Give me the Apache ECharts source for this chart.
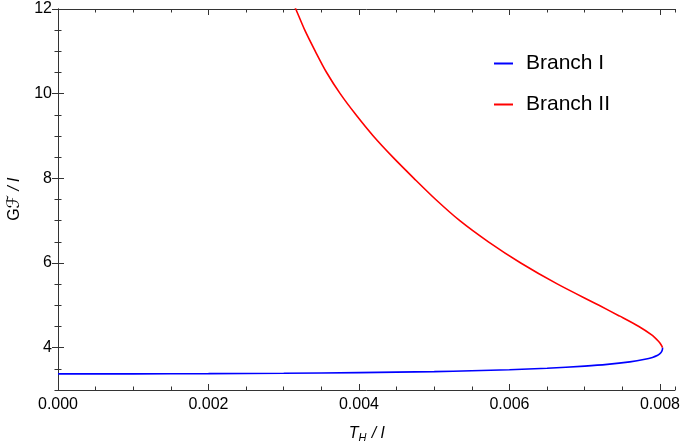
<!DOCTYPE html>
<html>
<head>
<meta charset="utf-8">
<script src="https://cdn.jsdelivr.net/npm/echarts@6/dist/echarts.min.js"></script>
<style>
  html, body { margin: 0; padding: 0; background: #fff; }
  #chart { width: 681px; height: 443px; }
</style>
</head>
<body>
<div id="chart"></div>
<script>
// Branch I (blue), [T_H, GF]
const branch1 = [
  [0.0, 3.38], [0.001, 3.381], [0.002, 3.386], [0.003, 3.395], [0.004, 3.41],
  [0.005, 3.435], [0.0055, 3.455], [0.006, 3.48], [0.0065, 3.515], [0.007, 3.565],
  [0.0073, 3.605], [0.0076, 3.665], [0.0078, 3.725], [0.0079, 3.77], [0.00797, 3.82],
  [0.0080, 3.86], [0.00802, 3.9], [0.008032, 3.95], [0.008035, 4.0]
]
// Branch II (red), from the top of the frame down to the turning point
const branch2 = [
  [0.00312, 12.15], [0.00316, 12.0], [0.00328, 11.5], [0.00342, 11.0], [0.00357, 10.5],
  [0.00375, 10.0], [0.00396, 9.5], [0.00419, 9.0], [0.00445, 8.5], [0.00473, 8.0],
  [0.00502, 7.5], [0.00534, 7.0], [0.00572, 6.5], [0.00615, 6.0], [0.00664, 5.5],
  [0.00719, 5.0], [0.00746, 4.75], [0.00772, 4.5], [0.00789, 4.3], [0.00798, 4.15],
  [0.008015, 4.07], [0.008035, 4.0]
]
const xTicks = [0, 0.002, 0.004, 0.006, 0.008]
const yTicks = [4, 6, 8, 10, 12]

const font = 'Liberation Sans'
const frameColor = '#333'

const myChart = echarts.init(document.getElementById('chart'))

function majorX(pos, labels) {
  return {
    type: 'value', position: pos, min: 0, max: 0.0082,
    axisLine: { show: true, lineStyle: { color: frameColor, width: 1 } },
    axisTick: { show: true, inside: true, length: 6, customValues: xTicks, lineStyle: { color: frameColor } },
    axisLabel: {
      show: labels, customValues: xTicks, margin: 7,
      color: '#000', fontSize: 16, fontFamily: font,
      formatter: v => v.toFixed(3)
    },
    splitLine: { show: false }
  }
}
function minorX(pos) {
  return {
    type: 'value', position: pos, min: 0, max: 0.0082, interval: 0.0005,
    axisLine: { show: false },
    axisTick: { show: true, inside: true, length: 3.5, lineStyle: { color: frameColor } },
    axisLabel: { show: false },
    splitLine: { show: false }
  }
}
function majorY(pos, labels) {
  return {
    type: 'value', position: pos, min: 3, max: 12,
    axisLine: { show: true, lineStyle: { color: frameColor, width: 1 } },
    axisTick: { show: true, inside: true, length: 6, customValues: yTicks, lineStyle: { color: frameColor } },
    axisLabel: {
      show: labels, customValues: yTicks, margin: 6,
      color: '#000', fontSize: 16, fontFamily: font
    },
    splitLine: { show: false }
  }
}
function minorY(pos) {
  return {
    type: 'value', position: pos, min: 3, max: 12, interval: 0.5,
    axisLine: { show: false },
    axisTick: { show: true, inside: true, length: 3.5, lineStyle: { color: frameColor } },
    axisLabel: { show: false },
    splitLine: { show: false }
  }
}

const xMain = majorX('bottom', true)
xMain.name = '{i|T}{sub|H}{i| / l}'
xMain.nameLocation = 'middle'
xMain.nameGap = 34
xMain.nameTextStyle = {
  fontFamily: font, color: '#000',
  rich: {
    i: { fontSize: 16, fontStyle: 'italic', fontFamily: font, color: '#000' },
    sub: { fontSize: 11, fontStyle: 'italic', fontFamily: font, color: '#000', padding: [8, 1, 0, 0] }
  }
}

const yMain = majorY('left', true)
yMain.name = '{r|G}{s|ℱ}{i| / l}'
yMain.nameLocation = 'middle'
yMain.nameGap = 33
yMain.nameTextStyle = {
  fontFamily: font, color: '#000',
  rich: {
    r: { fontSize: 16, fontFamily: font, color: '#000' },
    s: { fontSize: 17, fontFamily: 'DejaVu Sans', color: '#000' },
    i: { fontSize: 16, fontStyle: 'italic', fontFamily: font, color: '#000' }
  }
}

const option = {
  animation: false,
  backgroundColor: '#fff',
  grid: { left: 58, right: 6, top: 9, bottom: 53, containLabel: false, outerBoundsMode: 'none' },
  legend: {
    orient: 'vertical',
    left: 489,
    top: 48,
    itemGap: 20,
    itemWidth: 19,
    itemHeight: 2,
    icon: 'rect',
    textStyle: { fontSize: 21, fontFamily: font, color: '#000', padding: [0, 0, 0, 8] },
    data: ['Branch I', 'Branch II']
  },
  xAxis: [xMain, minorX('bottom'), majorX('top', false), minorX('top')],
  yAxis: [yMain, minorY('left'), majorY('right', false), minorY('right')],
  series: [
    {
      name: 'Branch II', type: 'line', data: branch2,
      xAxisIndex: 0, yAxisIndex: 0,
      showSymbol: false, smooth: 0.3, clip: true, z: 2,
      lineStyle: { color: '#ff0000', width: 1.6 },
      itemStyle: { color: '#ff0000' }
    },
    {
      name: 'Branch I', type: 'line', data: branch1,
      xAxisIndex: 0, yAxisIndex: 0,
      showSymbol: false, smooth: 0.3, clip: true, z: 3,
      lineStyle: { color: '#0000ff', width: 1.6 },
      itemStyle: { color: '#0000ff' }
    }
  ]
}
myChart.setOption(option)
</script>
</body>
</html>
